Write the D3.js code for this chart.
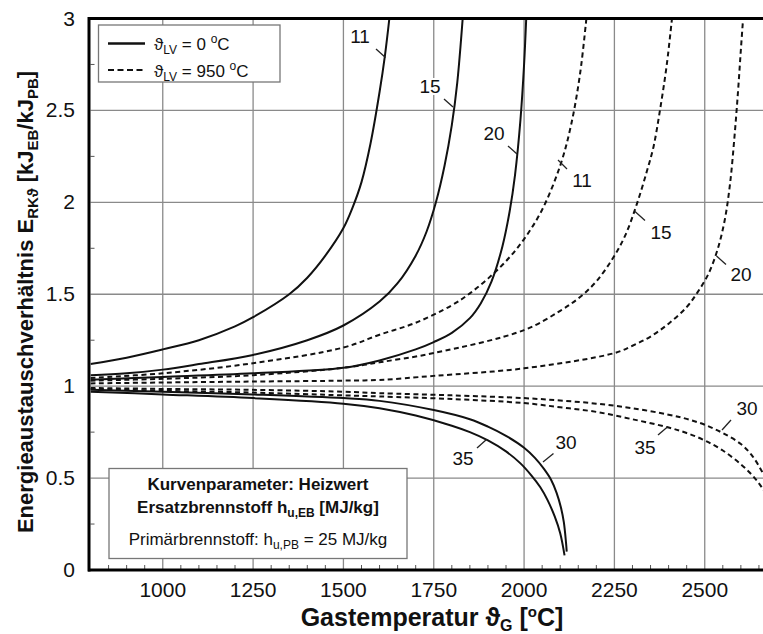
<!DOCTYPE html>
<html><head><meta charset="utf-8">
<script src="https://cdn.jsdelivr.net/npm/d3@7"></script>
<style>body{margin:0;background:#fff}svg{display:block;font-family:"Liberation Sans",Arial,sans-serif}</style>
</head><body><svg id="c" width="763" height="634"></svg>
<script>
// ---- data (gas temperature [°C], energy exchange ratio) ----
const solid11 = [[800,1.12],[900,1.155],[1000,1.2],[1100,1.25],[1200,1.325],[1250,1.375],[1350,1.5],[1400,1.59],[1450,1.71],[1500,1.86],[1525,1.97],[1550,2.11],[1575,2.32],[1600,2.6],[1615,2.8],[1630,3.05]];
const solid15 = [[800,1.06],[900,1.07],[1000,1.09],[1100,1.12],[1250,1.17],[1400,1.25],[1500,1.33],[1600,1.46],[1650,1.56],[1700,1.71],[1730,1.84],[1756,2.0],[1780,2.2],[1800,2.42],[1815,2.65],[1832,3.05]];
const solid20 = [[800,1.035],[1000,1.05],[1250,1.07],[1500,1.1],[1600,1.14],[1700,1.2],[1750,1.24],[1800,1.29],[1850,1.37],[1880,1.45],[1910,1.57],[1940,1.76],[1960,1.95],[1975,2.15],[1990,2.45],[2000,2.75],[2007,3.05]];
const solid30 = [[800,0.98],[1000,0.97],[1250,0.955],[1500,0.935],[1600,0.92],[1750,0.87],[1850,0.82],[1900,0.78],[1950,0.73],[2000,0.665],[2030,0.61],[2055,0.55],[2075,0.49],[2090,0.42],[2102,0.34],[2110,0.26],[2116,0.15],[2118,0.1]];
const solid35 = [[800,0.97],[1000,0.955],[1250,0.935],[1500,0.905],[1600,0.88],[1700,0.84],[1800,0.785],[1850,0.75],[1900,0.705],[1950,0.645],[1990,0.58],[2020,0.515],[2045,0.45],[2065,0.38],[2085,0.29],[2100,0.2],[2112,0.08]];
const dashed11 = [[800,1.045],[1000,1.07],[1250,1.125],[1500,1.21],[1600,1.28],[1700,1.345],[1800,1.44],[1850,1.505],[1900,1.585],[1950,1.68],[2000,1.8],[2050,1.96],[2100,2.2],[2130,2.42],[2155,2.7],[2175,3.05]];
const dashed15 = [[800,1.03],[1000,1.04],[1250,1.06],[1500,1.1],[1600,1.13],[1750,1.18],[2000,1.305],[2100,1.41],[2155,1.485],[2200,1.57],[2247,1.7],[2280,1.82],[2312,1.99],[2340,2.17],[2358,2.3],[2376,2.5],[2395,2.75],[2412,3.05]];
const dashed20 = [[800,1.015],[1000,1.02],[1250,1.025],[1500,1.03],[1600,1.034],[1750,1.056],[2000,1.097],[2250,1.18],[2300,1.22],[2350,1.27],[2400,1.34],[2450,1.43],[2480,1.51],[2510,1.61],[2535,1.74],[2555,1.9],[2570,2.1],[2582,2.35],[2592,2.6],[2600,2.83],[2608,3.05]];
const dashed30 = [[800,0.99],[1000,0.985],[1250,0.98],[1500,0.97],[1600,0.962],[1800,0.95],[2000,0.935],[2100,0.922],[2200,0.905],[2300,0.88],[2400,0.845],[2450,0.822],[2500,0.79],[2550,0.745],[2600,0.685],[2630,0.625],[2660,0.53],[2690,0.4],[2710,0.3]];
const dashed35 = [[800,0.985],[1000,0.975],[1250,0.965],[1500,0.95],[1600,0.944],[1800,0.93],[2000,0.908],[2100,0.885],[2200,0.86],[2300,0.82],[2400,0.775],[2450,0.745],[2500,0.705],[2550,0.65],[2600,0.575],[2634,0.51],[2661,0.44],[2690,0.33],[2710,0.25]];
const xTicks = [1000,1250,1500,1750,2000,2250,2500];
const yTicks = [0,0.5,1,1.5,2,2.5,3];
const yTickLabels = ["0","0.5","1","1.5","2","2.5","3"];
const curveLabelTexts = ["11","15","20","11","15","20","35","30","35","30"];

const svg = d3.select("#c");
const x = d3.scaleLinear([800,2700],[90.5,777]);
const y = d3.scaleLinear([0,3],[570,18.5]);

svg.append("clipPath").attr("id","pc").append("rect")
  .attr("x",x(800)).attr("y",y(3)).attr("width",x(2700)-x(800)).attr("height",y(0)-y(3));

// grid
const g = svg.append("g");
g.selectAll(".gx").data(xTicks).join("line")
  .attr("x1",d=>x(d)).attr("x2",d=>x(d)).attr("y1",y(0)).attr("y2",y(3))
  .attr("stroke","#8a8a8a").attr("stroke-width",1.3);
g.selectAll(".gy").data(yTicks.filter(d=>d>0&&d<3)).join("line")
  .attr("y1",d=>y(d)).attr("y2",d=>y(d)).attr("x1",x(800)).attr("x2",x(2700))
  .attr("stroke","#8a8a8a").attr("stroke-width",1.3);

// minor ticks
const minorX = d3.range(850,2700,50).filter(d=>d%250!==0);
g.selectAll(".mx").data(minorX).join("line")
  .attr("x1",d=>x(d)).attr("x2",d=>x(d)).attr("y1",y(0)).attr("y2",y(0)-5)
  .attr("stroke","#555").attr("stroke-width",1);
const minorY = d3.range(0.25,3,0.5);
g.selectAll(".my").data(minorY).join("line")
  .attr("y1",d=>y(d)).attr("y2",d=>y(d)).attr("x1",x(800)).attr("x2",x(800)+4)
  .attr("stroke","#555").attr("stroke-width",1);

// curves
const line = d3.line().x(d=>x(d[0])).y(d=>y(d[1])).curve(d3.curveCatmullRom.alpha(0.5));
const cg = svg.append("g").attr("clip-path","url(#pc)");
[solid11,solid15,solid20,solid30,solid35].forEach(s=>{
  cg.append("path").attr("d",line(s)).attr("fill","none").attr("stroke","#111").attr("stroke-width",2);
});
[dashed11,dashed15,dashed20,dashed30,dashed35].forEach(s=>{
  cg.append("path").attr("d",line(s)).attr("fill","none").attr("stroke","#111").attr("stroke-width",2).attr("stroke-dasharray","5,3.5");
});

// axes frame
svg.append("line").attr("x1",88).attr("x2",777).attr("y1",y(3)).attr("y2",y(3)).attr("stroke","#000").attr("stroke-width",3);
svg.append("line").attr("x1",88).attr("x2",777).attr("y1",y(0)).attr("y2",y(0)).attr("stroke","#000").attr("stroke-width",3);
svg.append("line").attr("x1",89).attr("x2",89).attr("y1",y(3)-1.5).attr("y2",y(0)+1.5).attr("stroke","#000").attr("stroke-width",3);

// tick labels
svg.append("g").selectAll("text").data(xTicks).join("text")
  .attr("x",d=>x(d)).attr("y",597).attr("text-anchor","middle")
  .attr("font-size",21).attr("fill","#111").text(d=>d);
svg.append("g").selectAll("text").data(yTicks).join("text")
  .attr("x",75).attr("y",d=>y(d)+7).attr("text-anchor","end")
  .attr("font-size",21).attr("fill","#111").text((d,i)=>yTickLabels[i]);

// axis titles
const xt = svg.append("text").attr("x",432).attr("y",626).attr("text-anchor","middle")
  .attr("font-size",25).attr("font-weight","bold").attr("fill","#111");
xt.append("tspan").text("Gastemperatur \u03D1");
xt.append("tspan").attr("font-size",16).attr("dy",5).text("G");
xt.append("tspan").attr("dy",-5).text(" [");
xt.append("tspan").attr("font-size",15).attr("dy",-9).text("o");
xt.append("tspan").attr("dy",9).text("C]");

const yt = svg.append("text").attr("transform","translate(33,302) rotate(-90)").attr("text-anchor","middle")
  .attr("font-size",22).attr("font-weight","bold").attr("fill","#111");
yt.append("tspan").text("Energieaustauschverhältnis E");
yt.append("tspan").attr("font-size",15).attr("dy",5).text("RK\u03D1");
yt.append("tspan").attr("dy",-5).text(" [kJ");
yt.append("tspan").attr("font-size",15).attr("dy",5).text("EB");
yt.append("tspan").attr("dy",-5).text("/kJ");
yt.append("tspan").attr("font-size",15).attr("dy",5).text("PB");
yt.append("tspan").attr("dy",-5).text("]");

// curve labels with leader ticks (label anchor and leader endpoints)
const labPos = [
  {tx:360, ty:43, x1:376, y1:49, x2:385.5, y2:57.5},
  {tx:430, ty:93, x1:444, y1:99, x2:453, y2:107},
  {tx:494, ty:140, x1:508, y1:146, x2:517, y2:154},
  {tx:582, ty:187, x1:558, y1:160, x2:567, y2:169},
  {tx:661, ty:239, x1:635, y1:211.5, x2:645, y2:220.5},
  {tx:741, ty:281, x1:716.5, y1:256, x2:726, y2:264.5},
  {tx:463, ty:465, x1:477, y1:448, x2:486.5, y2:439.5},
  {tx:566, ty:449, x1:543, y1:462, x2:553.5, y2:453.5},
  {tx:645, ty:454, x1:658, y1:435, x2:668, y2:426.5},
  {tx:747, ty:415, x1:722, y1:430, x2:731, y2:420}
];
const lg = svg.append("g");
labPos.forEach((l,i)=>{
  lg.append("line").attr("x1",l.x1).attr("y1",l.y1).attr("x2",l.x2).attr("y2",l.y2).attr("stroke","#222").attr("stroke-width",1.3);
  lg.append("text").attr("x",l.tx).attr("y",l.ty).attr("text-anchor","middle").attr("font-size",19).attr("fill","#111")
    .attr("stroke","#fff").attr("stroke-width",4).attr("paint-order","stroke").text(curveLabelTexts[i]);
});

// legend
const leg = svg.append("g");
leg.append("rect").attr("x",98.5).attr("y",25).attr("width",181.5).attr("height",57)
  .attr("fill","#fff").attr("stroke","#777").attr("stroke-width",1.3);
leg.append("line").attr("x1",108).attr("x2",145).attr("y1",43.5).attr("y2",43.5).attr("stroke","#111").attr("stroke-width",2.5);
leg.append("line").attr("x1",108).attr("x2",145).attr("y1",70).attr("y2",70).attr("stroke","#111").attr("stroke-width",2).attr("stroke-dasharray","6,3.5");
function legText(yy, val){
  const t = leg.append("text").attr("x",154).attr("y",yy).attr("font-size",17).attr("fill","#111");
  t.append("tspan").text("\u03D1");
  t.append("tspan").attr("font-size",12).attr("dy",4).text("LV");
  t.append("tspan").attr("dy",-4).text(" = "+val+" ");
  t.append("tspan").attr("font-size",12).attr("dy",-7).text("o");
  t.append("tspan").attr("dy",7).text("C");
}
legText(50,"0");
legText(76.5,"950");

// annotation box
const ab = svg.append("g");
ab.append("rect").attr("x",109).attr("y",468.5).attr("width",298).attr("height",90)
  .attr("fill","#fff").attr("stroke","#777").attr("stroke-width",1.3);
ab.append("text").attr("x",258).attr("y",490).attr("text-anchor","middle").attr("font-size",17).attr("font-weight","bold").attr("fill","#111")
  .text("Kurvenparameter: Heizwert");
const a2 = ab.append("text").attr("x",258).attr("y",513).attr("text-anchor","middle").attr("font-size",17).attr("font-weight","bold").attr("fill","#111");
a2.append("tspan").text("Ersatzbrennstoff h");
a2.append("tspan").attr("font-size",12).attr("dy",4).text("u,EB");
a2.append("tspan").attr("dy",-4).text(" [MJ/kg]");
const a3 = ab.append("text").attr("x",258).attr("y",545).attr("text-anchor","middle").attr("font-size",17).attr("fill","#111");
a3.append("tspan").text("Primärbrennstoff: h");
a3.append("tspan").attr("font-size",12).attr("dy",4).text("u,PB");
a3.append("tspan").attr("dy",-4).text(" = 25 MJ/kg");
</script></body></html>
